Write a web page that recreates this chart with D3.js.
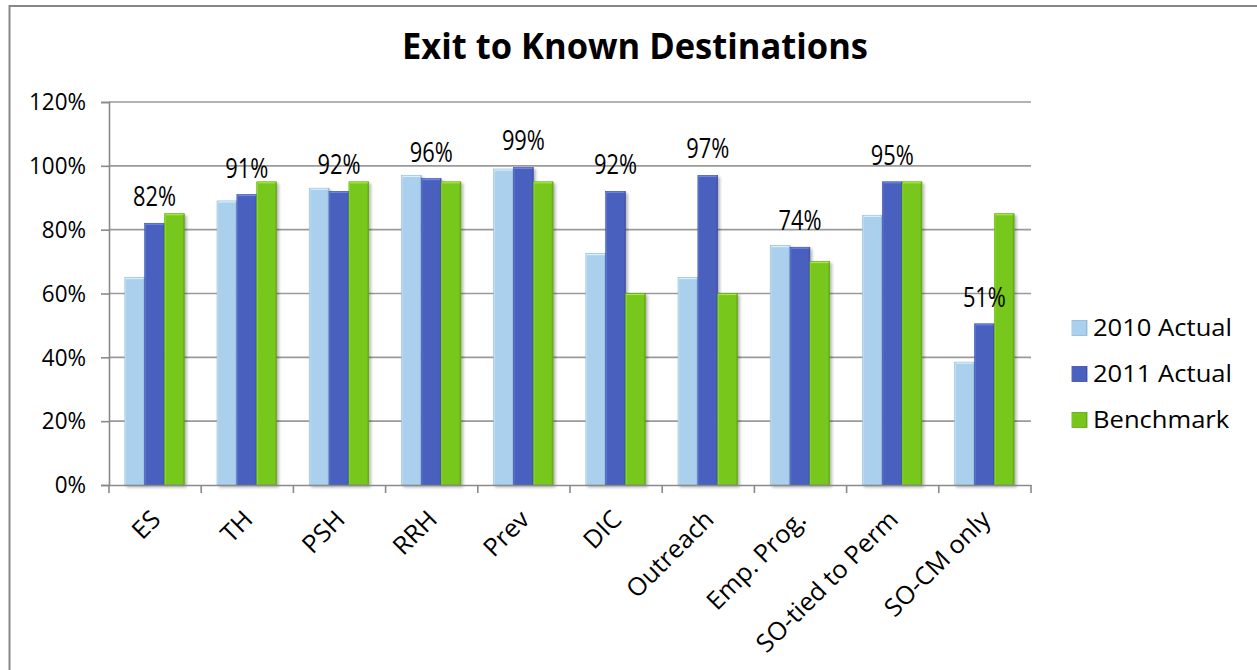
<!DOCTYPE html>
<html>
<head>
<meta charset="utf-8">
<script src="https://cdn.jsdelivr.net/npm/d3@7"></script>
<style>
  html, body { margin: 0; padding: 0; background: #fff; }
  svg { display: block; font-family: "Open Sans", "DejaVu Sans", sans-serif; }
</style>
</head>
<body>
<svg id="chart" width="1257" height="670"></svg>
<script>
// ---- data ----
const categories = ["ES", "TH", "PSH", "RRH", "Prev", "DIC", "Outreach", "Emp. Prog.", "SO-tied to Perm", "SO-CM only"];
const seriesNames = ["2010 Actual", "2011 Actual", "Benchmark"];
const actual2010 = [65, 89, 93, 97, 99, 72.5, 65, 75, 84.5, 38.5];
const actual2011 = [82, 91, 92, 96, 99.5, 92, 97, 74.5, 95, 50.5];
const benchmark  = [85, 95, 95, 95, 95, 60, 60, 70, 95, 85];
const valueLabels = ["82%", "91%", "92%", "96%", "99%", "92%", "97%", "74%", "95%", "51%"];
const yTicks = [0, 20, 40, 60, 80, 100, 120];
const titleText = "Exit to Known Destinations";

// ---- layout ----
const svg = d3.select("#chart");
const W = 1257, H = 670;
const plot = { left: 109, right: 1031, top: 102, bottom: 485 };
const colors = ["#abd0ee", "#4a61bf", "#77c71a"];
const edge = ["#d6f1fb", "#6a86e6", "#a3ec3a"];
const dark = ["#8fb4d6", "#3a4ea3", "#5fa512"];

const series = [actual2010, actual2011, benchmark];
const rows = categories.map((c, i) => ({ cat: c, vals: series.map(s => s[i]) }));

const x = d3.scaleBand().domain(categories).range([plot.left, plot.right]).paddingInner(0).paddingOuter(0);
const groupW = 59.5;
const xInner = d3.scaleBand().domain(d3.range(3)).range([0, groupW]).padding(0);
const y = d3.scaleLinear().domain([0, 120]).range([plot.bottom, plot.top]);

// squeeze text horizontally so that a sample string gets the target width (reference font is narrow)
function squeeze(sel, sampleFilter, target) {
  const sample = sel.filter(sampleFilter).node();
  const r = target / sample.getComputedTextLength();
  sel.each(function () {
    const len = this.getComputedTextLength();
    d3.select(this).attr("textLength", len * r).attr("lengthAdjust", "spacingAndGlyphs");
  });
}

// defs: gradients for bars
const defs = svg.append("defs");
colors.forEach((c, i) => {
  const g = defs.append("linearGradient").attr("id", "g" + i).attr("x1", 0).attr("x2", 1).attr("y1", 0).attr("y2", 0);
  g.append("stop").attr("offset", "0%").attr("stop-color", edge[i]);
  g.append("stop").attr("offset", "8%").attr("stop-color", c);
  g.append("stop").attr("offset", "90%").attr("stop-color", c);
  g.append("stop").attr("offset", "100%").attr("stop-color", dark[i]);
});
const sh = defs.append("filter").attr("id", "shadow").attr("x", "-20%").attr("y", "-5%").attr("width", "150%").attr("height", "115%");
sh.append("feGaussianBlur").attr("in", "SourceAlpha").attr("stdDeviation", 1.6);
sh.append("feOffset").attr("dx", 2).attr("dy", 2).attr("result", "b");
sh.append("feComponentTransfer").append("feFuncA").attr("type", "linear").attr("slope", 0.3);
const mg = sh.append("feMerge");
mg.append("feMergeNode");
mg.append("feMergeNode").attr("in", "SourceGraphic");

// border (top & left)
svg.append("path").attr("d", `M9.5,${H + 5} L9.5,6 L${W + 5},6`)
  .attr("fill", "none").attr("stroke", "#888").attr("stroke-width", 2);

// title
const title = svg.append("text").attr("x", 635).attr("y", 59).attr("text-anchor", "middle")
  .attr("font-weight", "bold").attr("font-size", 36).attr("fill", "#000").text(titleText);
squeeze(title, () => true, 466);

// gridlines
svg.append("g").selectAll("line").data(yTicks.filter(t => t > 0)).join("line")
  .attr("x1", plot.left).attr("x2", plot.right)
  .attr("y1", d => y(d)).attr("y2", d => y(d))
  .attr("stroke", "#9a9a9a").attr("stroke-width", 1.6);

// y axis
const yAxis = svg.append("g").attr("transform", `translate(${plot.left},0)`)
  .call(d3.axisLeft(y).tickValues(yTicks).tickFormat(d => d + "%").tickSize(8).tickPadding(15));
yAxis.select(".domain").attr("stroke", "#8a8a8a").attr("stroke-width", 1.6);
yAxis.selectAll(".tick line").attr("stroke", "#8a8a8a").attr("stroke-width", 1.6);
yAxis.selectAll("text").attr("font-family", "Open Sans, sans-serif").attr("fill", "#000").attr("font-size", 24);
squeeze(yAxis.selectAll("text"), d => d === 120, 57);

// bars
const groups = svg.append("g").selectAll("g").data(rows).join("g")
  .attr("transform", d => `translate(${x(d.cat) + (x.bandwidth() - groupW) / 2 - 0.5},0)`);
groups.selectAll("rect").data(d => d.vals.map((v, k) => ({ v, k }))).join("rect")
  .attr("x", d => xInner(d.k))
  .attr("width", xInner.bandwidth())
  .attr("y", d => y(d.v))
  .attr("height", d => y(0) - y(d.v))
  .attr("fill", d => `url(#g${d.k})`)
  .attr("stroke", d => dark[d.k]).attr("stroke-width", 0.6)
  .attr("filter", "url(#shadow)");
groups.selectAll("line.top").data(d => d.vals.map((v, k) => ({ v, k }))).join("line")
  .attr("class", "top")
  .attr("x1", d => xInner(d.k) + 1).attr("x2", d => xInner(d.k) + xInner.bandwidth() - 1)
  .attr("y1", d => y(d.v) + 1).attr("y2", d => y(d.v) + 1)
  .attr("stroke", d => edge[d.k]).attr("stroke-width", 1.2);

// x axis
const xAxis = svg.append("g").attr("transform", `translate(0,${plot.bottom})`)
  .call(d3.axisBottom(x).tickSize(0).tickFormat(""));
xAxis.select(".domain").attr("stroke", "#8a8a8a").attr("stroke-width", 1.6);
xAxis.selectAll(".tick").remove();
const tickXs = categories.map(c => x(c)).concat([x(categories[categories.length - 1]) + x.bandwidth()]);
xAxis.selectAll("line.cat").data(tickXs).join("line").attr("class", "cat")
  .attr("x1", d => d).attr("x2", d => d).attr("y1", 0).attr("y2", 8)
  .attr("stroke", "#8a8a8a").attr("stroke-width", 1.6);

// category labels
const catLabels = svg.append("g").selectAll("text").data(categories).join("text")
  .attr("text-anchor", "end")
  .attr("font-size", 25)
  .attr("fill", "#000")
  .attr("transform", d => `translate(${x(d) + x.bandwidth() / 2 + 7},${plot.bottom + 36}) rotate(-45)`)
  .text(d => d);
squeeze(catLabels, d => d === "Outreach", 111);

// value labels on 2011 bars
const vl = svg.append("g").selectAll("text").data(rows).join("text")
  .attr("text-anchor", "middle")
  .attr("font-size", 27).attr("fill", "#000")
  .attr("x", d => x(d.cat) + (x.bandwidth() - groupW) / 2 - 0.5 + xInner(1) + xInner.bandwidth() / 2)
  .attr("y", d => y(d.vals[1]) - 17)
  .text((d, i) => valueLabels[i]);
squeeze(vl, (d, i) => i === 0, 43);

// legend
const leg = svg.append("g").selectAll("g").data(seriesNames).join("g")
  .attr("transform", (d, i) => `translate(1072,${328 + i * 46})`);
leg.append("rect").attr("x", 0).attr("y", -7.5).attr("width", 15).attr("height", 15)
  .attr("fill", (d, i) => `url(#g${i})`).attr("stroke", (d, i) => dark[i]).attr("stroke-width", 0.8);
const legText = leg.append("text").attr("x", 21).attr("y", 0).attr("dy", "0.35em")
  .attr("font-size", 24).attr("fill", "#000").text(d => d);
squeeze(legText, (d, i) => i === 0, 139);
</script>
</body>
</html>
